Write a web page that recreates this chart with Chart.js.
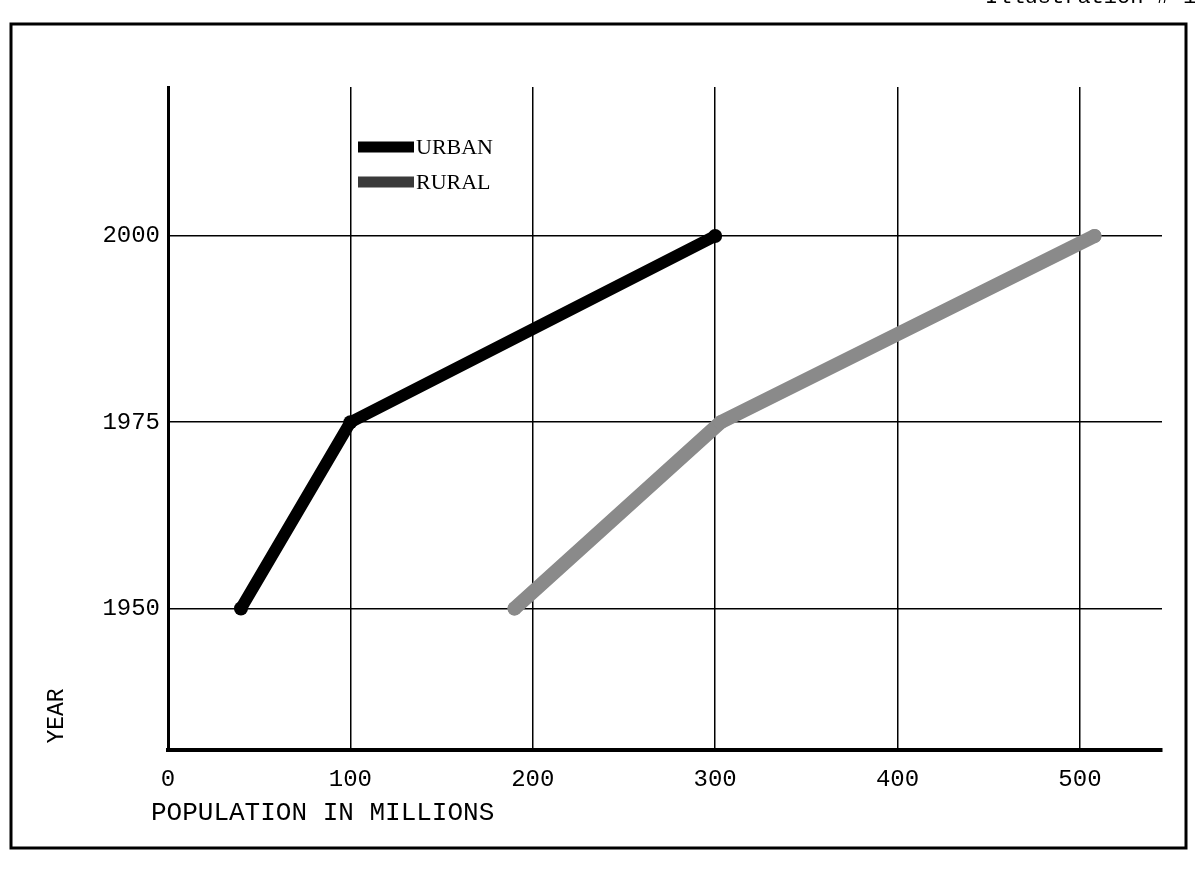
<!DOCTYPE html>
<html><head><meta charset="utf-8">
<script src="https://cdn.jsdelivr.net/npm/chart.js@4"></script>
<style>html,body{margin:0;padding:0;background:#fff;}#wrap{width:1195px;height:869px;}</style>
</head><body><div id="wrap"><canvas id="c" width="1195" height="869"></canvas></div>
<script>
const years = [1950, 1975, 2000];
const urban = [40, 100, 300];
const rural = [190, 303, 508];
const xTicks = [0, 100, 200, 300, 400, 500];
const yTicks = [1950, 1975, 2000];
const seriesNames = ['URBAN', 'RURAL'];
const xTitle = 'POPULATION IN MILLIONS';
const yTitle = 'YEAR';
const pageTag = 'Illustration # 1';

const toPts = arr => arr.map((v, i) => ({x: v, y: years[i]}));

const decor = {
  id: 'decor',
  afterDraw(chart) {
    const ctx = chart.ctx;
    ctx.save();
    // outer frame
    ctx.strokeStyle = '#000';
    ctx.lineWidth = 3;
    ctx.strokeRect(11, 24, 1175, 824);
    // page tag (cut at top)
    ctx.fillStyle = '#000';
    ctx.font = '22px "Liberation Mono"';
    ctx.textAlign = 'left';
    ctx.textBaseline = 'alphabetic';
    ctx.fillText(pageTag, 985, 3);
    // x title
    ctx.font = '26px "Liberation Mono"';
    ctx.textBaseline = 'middle';
    ctx.fillText(xTitle, 151, 813);
    // y title
    ctx.save();
    ctx.translate(57, 716);
    ctx.rotate(-Math.PI / 2);
    ctx.textAlign = 'center';
    ctx.textBaseline = 'middle';
    ctx.font = '23px "Liberation Mono"';
    ctx.fillText(yTitle, 0, 0);
    ctx.restore();
    // legend
    const ds = chart.data.datasets;
    ds.forEach((d, i) => {
      const y = 147 + i * 35;
      ctx.strokeStyle = i === 0 ? '#000' : '#3a3a3a';
      ctx.lineWidth = 11;
      ctx.beginPath();
      ctx.moveTo(358, y);
      ctx.lineTo(414, y);
      ctx.stroke();
      ctx.fillStyle = '#000';
      ctx.font = '22px "Liberation Serif"';
      ctx.textAlign = 'left';
      ctx.textBaseline = 'middle';
      ctx.fillText(d.label, 416, y + 1);
    });
    ctx.restore();
  }
};

new Chart(document.getElementById('c'), {
  type: 'scatter',
  data: {
    datasets: [
      {
        label: seriesNames[0],
        data: toPts(urban),
        showLine: true,
        borderColor: '#000',
        backgroundColor: '#000',
        borderWidth: 12,
        pointRadius: 7,
        pointBorderWidth: 0,
        borderCapStyle: 'round',
        borderJoinStyle: 'round'
      },
      {
        label: seriesNames[1],
        data: toPts(rural),
        showLine: true,
        borderColor: '#8a8a8a',
        backgroundColor: '#8a8a8a',
        borderWidth: 14,
        pointRadius: 7,
        pointBorderWidth: 0,
        borderCapStyle: 'round',
        borderJoinStyle: 'round'
      }
    ]
  },
  options: {
    responsive: false,
    devicePixelRatio: 1,
    animation: false,
    layout: {padding: {top: 87, right: 33, left: 0, bottom: 0}},
    plugins: {legend: {display: false}, tooltip: {enabled: false}},
    scales: {
      x: {
        type: 'linear',
        min: 0, max: 545,
        afterBuildTicks: s => { s.ticks = xTicks.map(v => ({value: v})); },
        afterFit: s => { s.height = 119; },
        grid: {color: '#000', lineWidth: 1.5, drawTicks: false},
        border: {color: '#000', width: 4},
        ticks: {color: '#000', padding: 15, font: {family: 'Liberation Mono', size: 24}, callback: v => String(v)}
      },
      y: {
        type: 'linear',
        min: 1931, max: 2020,
        afterBuildTicks: s => { s.ticks = yTicks.map(v => ({value: v})); },
        afterFit: s => { s.width = 168; },
        grid: {color: '#000', lineWidth: 1.5, drawTicks: false},
        border: {color: '#000', width: 3},
        ticks: {color: '#000', padding: 8, font: {family: 'Liberation Mono', size: 24}, callback: v => String(v)}
      }
    }
  },
  plugins: [decor]
});
</script>
</body></html>
